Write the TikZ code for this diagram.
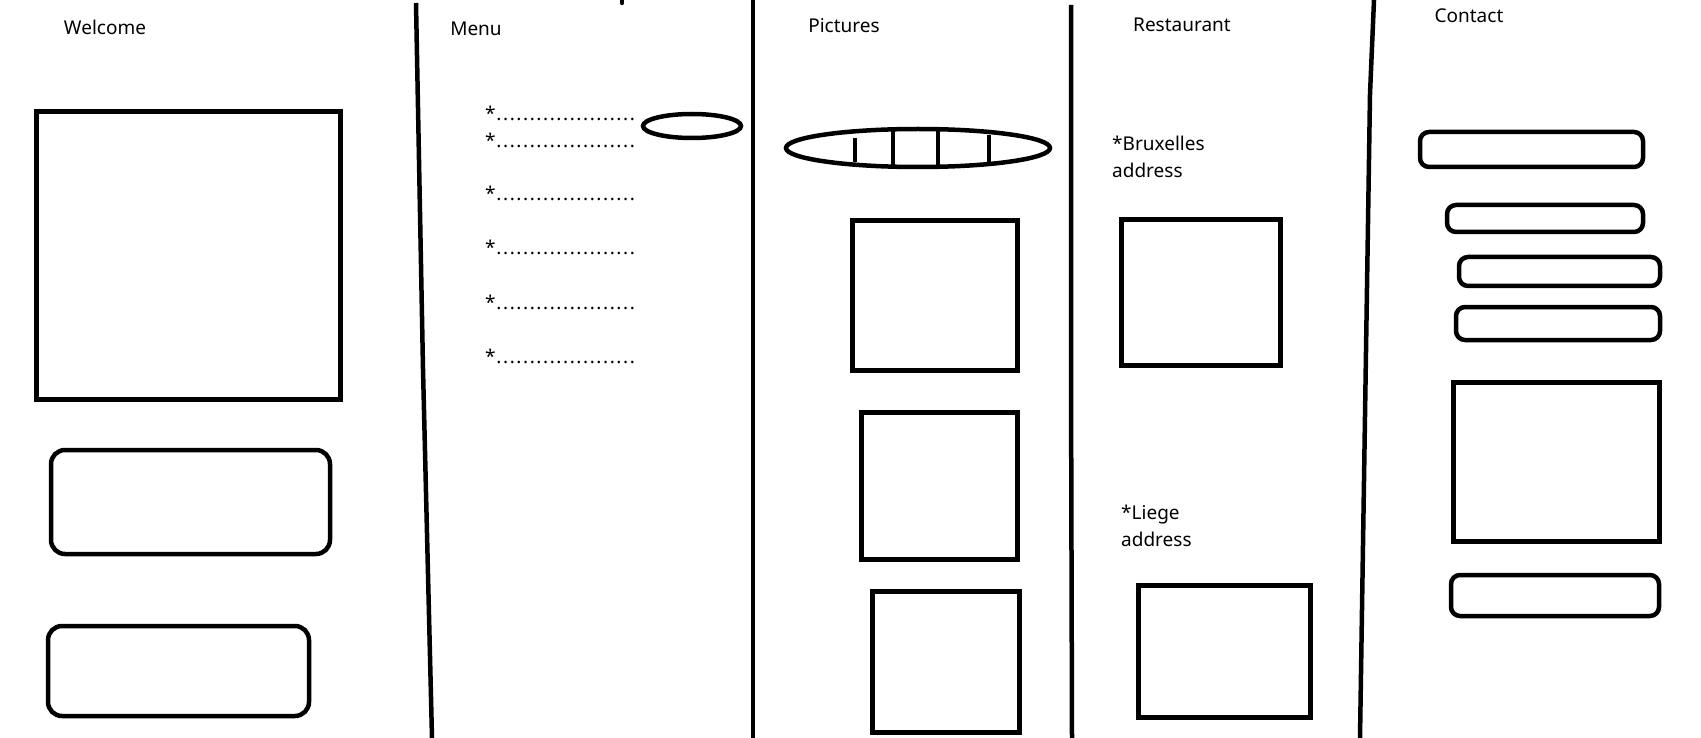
\documentclass[tikz,border=0pt]{standalone}
\usepackage{fontspec}
\setmainfont{Noto Sans}
\newcommand\dotrow{\hbox to 140pt{\xleaders\hbox to 6.6pt{\hss.\hss}\hfill}}
\begin{document}
\begin{tikzpicture}[x=1pt,y=-1pt,
  box/.style={line width=5pt},
  divider/.style={line width=4.5pt},
  pill/.style={line width=4.5pt, rounded corners=9pt},
  card/.style={line width=4.5pt, rounded corners=14pt},
  heading/.style={anchor=base, inner sep=0pt, font=\fontsize{19}{23}\selectfont},
  label/.style={anchor=base west, inner sep=0pt, font=\fontsize{19}{23}\selectfont},
]
\useasboundingbox[fill=white] (0,0) rectangle (1701,738);

% column dividers
\draw[divider] (416,3) -- (423,369) -- (432,738);
\draw[divider] (753,0) -- (753,738);
\draw[divider] (1071,5) -- (1071,370) -- (1072,738);
\draw[divider] (1374,0) -- (1370,94) -- (1360,738);
\draw[divider, line cap=round] (622,0) -- (622,3);

% headings
\node[heading] (welcome) at (105,35) {Welcome};
\node[heading] (menu) at (476,36) {Menu};
\node[heading] (pictures) at (844,33) {Pictures};
\node[heading] (restaurant) at (1182,32) {Restaurant};
\node[heading] (contact) at (1469,22.5) {Contact};

% Welcome column
\draw[box] (36,112) rectangle (340,399);
\draw[card] (51,450) rectangle (330,554);
\draw[card] (48,626) rectangle (309,716);

% Menu column
\node[label] (m1) at (485,121) {*\dotrow};
\node[label] (m2) at (485,148) {*\dotrow};
\node[label] (m3) at (485,201) {*\dotrow};
\node[label] (m4) at (485,255) {*\dotrow};
\node[label] (m5) at (485,309) {*\dotrow};
\node[label] (m6) at (485,363) {*\dotrow};
\draw[divider] (692,126) ellipse [x radius=49, y radius=12];

% Pictures column
\draw[divider] (918,148) ellipse [x radius=132, y radius=19];
\draw[divider] (855,138) -- (855,162);
\draw[divider] (893,130) -- (893,166);
\draw[divider] (938,130) -- (938,169);
\draw[divider] (989,135) -- (989,163);
\draw[box] (852,221) rectangle (1017,370);
\draw[box] (861,412) rectangle (1017,559);
\draw[box] (872,591) rectangle (1019,732);

% Restaurant column
\node[label] (bx1) at (1112,151) {*Bruxelles};
\node[label] (bx2) at (1112,178) {address};
\draw[box] (1121,220) rectangle (1280,365);
\node[label] (lg1) at (1121,519) {*Liege};
\node[label] (lg2) at (1121,546) {address};
\draw[box] (1138,585) rectangle (1310,717);

% Contact column
\draw[pill] (1420,132) rectangle (1643,167);
\draw[pill] (1447,205) rectangle (1643,232);
\draw[pill] (1459,257) rectangle (1660,286);
\draw[pill] (1456,307) rectangle (1660,340);
\draw[box] (1453,382) rectangle (1659,541);
\draw[pill] (1451,575) rectangle (1659,616);
\end{tikzpicture}
\end{document}
